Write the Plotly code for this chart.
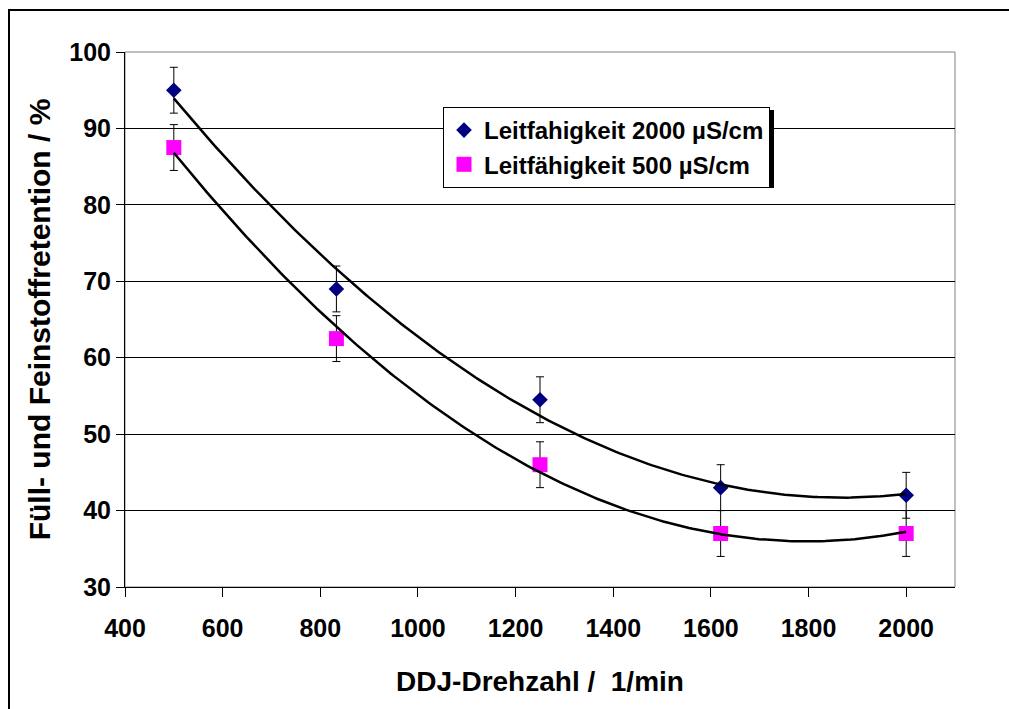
import numpy as np
import plotly.graph_objects as go

# ---- data ----
drehzahl = [500, 833, 1250, 1620, 2000]
ret_2000 = [95, 69, 54.5, 43, 42]
ret_500 = [87.5, 62.5, 46, 37, 37]
err_2000 = [3, 3, 3, 3, 3]
err_500 = [3, 3, 3, 3, 3]
x_ticks = [400, 600, 800, 1000, 1200, 1400, 1600, 1800, 2000]
y_ticks = [30, 40, 50, 60, 70, 80, 90, 100]

name_2000 = "Leitfahigkeit 2000 µS/cm"
name_500 = "Leitfähigkeit 500 µS/cm"

FONT = "Arial, 'Liberation Sans', sans-serif"

fig = go.Figure()

fig.add_trace(go.Scatter(
    x=drehzahl, y=ret_2000, mode="markers", name=name_2000,
    marker=dict(symbol="diamond", size=12, color="#000080"),
    error_y=dict(type="data", array=err_2000, color="black", thickness=1, width=4),
))
fig.add_trace(go.Scatter(
    x=drehzahl, y=ret_500, mode="markers", name=name_500,
    marker=dict(symbol="square", size=15, color="#FF00FF"),
    error_y=dict(type="data", array=err_500, color="black", thickness=1, width=4),
))

# polynomial (order 2) trend lines, as in the spreadsheet chart
xs = np.linspace(min(drehzahl), max(drehzahl), 200)
for ys in (ret_2000, ret_500):
    c = np.polyfit(drehzahl, ys, 2)
    fig.add_trace(go.Scatter(x=xs, y=np.polyval(c, xs), mode="lines",
                             line=dict(color="black", width=2.5),
                             showlegend=False, hoverinfo="skip"))

L, R, T, B = 125, 54, 52, 122
W, H = 1009, 709
pw, ph = W - L - R, H - T - B

def px(xp):
    return (xp - L) / pw

def py(yp):
    return (H - B - yp) / ph

shapes = [
    # plot area frame (grey)
    dict(type="rect", xref="paper", yref="paper", x0=0, x1=1, y0=0, y1=1,
         line=dict(color="#808080", width=1), layer="below"),
    # outer chart border
    dict(type="rect", xref="paper", yref="paper", x0=px(9), x1=px(1030),
         y0=py(730), y1=py(10), line=dict(color="black", width=2)),
    # legend shadow
    dict(type="rect", xref="paper", yref="paper", x0=px(446), x1=px(774),
         y0=py(188), y1=py(110), line=dict(width=0), fillcolor="black",
         layer="above"),
]

fig.update_layout(
    width=W, height=H,
    margin=dict(l=L, r=R, t=T, b=B),
    paper_bgcolor="white", plot_bgcolor="white",
    font=dict(family=FONT, color="black", size=24, weight="bold"),
    showlegend=True,
    legend=dict(x=px(443), y=py(107), xanchor="left", yanchor="top",
                bgcolor="white", bordercolor="black", borderwidth=1,
                font=dict(family=FONT, size=24, weight="bold", color="black"),
                itemwidth=30, tracegroupgap=0),
    shapes=shapes,
)

fig.update_xaxes(
    range=[400, 2100], tickvals=x_ticks, showgrid=False, zeroline=False,
    ticks="outside", ticklen=9, tickwidth=1, tickcolor="black",
    showline=True, linecolor="black", linewidth=1, ticklabelstandoff=10,
    tickfont=dict(family=FONT, size=25, weight="bold"),
    title=dict(text="DDJ-Drehzahl /  1/min", standoff=30,
               font=dict(family=FONT, size=28, weight="bold")),
)
fig.update_yaxes(
    range=[30, 100], tickvals=y_ticks, showgrid=True, gridcolor="black",
    gridwidth=1, zeroline=False,
    ticks="outside", ticklen=8, tickwidth=1, tickcolor="black",
    showline=True, linecolor="black", linewidth=1,
    tickfont=dict(family=FONT, size=25, weight="bold"),
    title=dict(text="Füll- und Feinstoffretention / %", standoff=9,
               font=dict(family=FONT, size=30, weight="bold")),
)

fig.write_html("out.html")
